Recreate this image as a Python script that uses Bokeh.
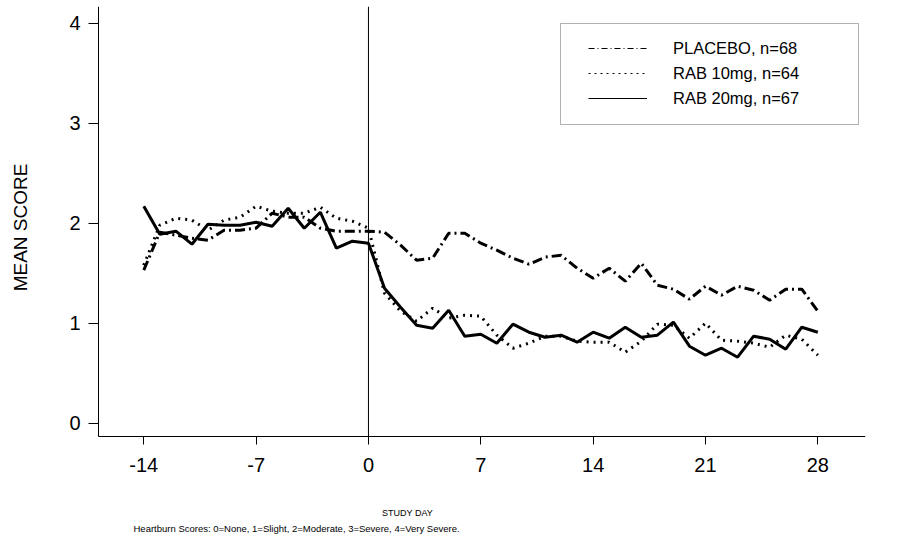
import math
from bokeh.plotting import figure
from bokeh.models import (Range1d, Legend, LegendItem, Label,
                          BoxAnnotation, FixedTicker)
from bokeh.embed import file_html
from bokeh.resources import INLINE

# ---------------- data ----------------
days = list(range(-14, 29))
placebo = [1.53, 1.91, 1.88, 1.85, 1.83, 1.93, 1.93, 1.95, 2.10, 2.06, 2.06, 1.95, 1.92, 1.92, 1.92,
           1.91, 1.78, 1.63, 1.65, 1.90, 1.90, 1.80, 1.73, 1.65, 1.59,
           1.66, 1.68, 1.55, 1.45, 1.55, 1.42, 1.60, 1.38, 1.34, 1.24,
           1.37, 1.28, 1.37, 1.33, 1.23, 1.34, 1.34, 1.12]
rab10 = [1.58, 1.98, 2.05, 2.03, 1.93, 2.03, 2.06, 2.17, 2.12, 2.10, 2.10, 2.16, 2.05, 2.02, 1.95,
         1.30, 1.12, 1.02, 1.15, 1.05, 1.08, 1.07, 0.88, 0.75, 0.80,
         0.87, 0.87, 0.82, 0.81, 0.81, 0.71, 0.82, 0.99, 0.98, 0.85,
         1.00, 0.83, 0.82, 0.80, 0.76, 0.88, 0.84, 0.68]
rab20 = [2.17, 1.89, 1.92, 1.79, 1.99, 1.98, 1.98, 2.01, 1.97, 2.15, 1.95, 2.11, 1.75, 1.82, 1.80,
         1.35, 1.16, 0.98, 0.95, 1.13, 0.87, 0.89, 0.80, 0.99, 0.91,
         0.86, 0.88, 0.81, 0.91, 0.85, 0.96, 0.86, 0.88, 1.01, 0.77,
         0.68, 0.75, 0.66, 0.87, 0.84, 0.74, 0.96, 0.91]
x_ticks = [-14, -7, 0, 7, 14, 21, 28]
x_tick_labels = {-14: "-14", -7: "-7"}
y_ticks = [0, 1, 2, 3, 4]
series_labels = ["PLACEBO, n=68", "RAB 10mg, n=64", "RAB 20mg, n=67"]
x_title = "STUDY DAY"
y_title = "MEAN SCORE"
footnote = "Heartburn Scores: 0=None, 1=Slight, 2=Moderate, 3=Severe, 4=Very Severe."

# axis extents: value axis runs Y_LO..Y_HI at day X_LO, day axis runs X_LO..X_HI at Y_LO
Y_LO, Y_HI = -0.133, 4.167
X_LO, X_HI = -16.82, 30.97
REF_DAY = 0

FONT = "Liberation Sans"

p = figure(width=916, height=555, output_backend="svg", toolbar_location=None,
           x_range=Range1d(-22.927, X_HI), y_range=Range1d(-1.323, Y_HI),
           min_border_left=0, min_border_right=51, min_border_top=6,
           min_border_bottom=0)
p.outline_line_color = None
p.grid.visible = False
p.background_fill_color = "white"

# axes
p.xaxis.ticker = FixedTicker(ticks=x_ticks)
p.xaxis.major_label_overrides = x_tick_labels
p.xaxis.fixed_location = Y_LO
p.xaxis.bounds = (X_LO, X_HI)
p.yaxis.ticker = FixedTicker(ticks=y_ticks)
p.yaxis.fixed_location = X_LO
p.yaxis.bounds = (Y_LO, Y_HI)
for ax in (p.xaxis, p.yaxis):
    ax.minor_tick_line_color = None
    ax.major_tick_in = 0
    ax.axis_line_color = "black"
    ax.major_tick_line_color = "black"
    ax.major_label_text_font = FONT
    ax.major_label_text_font_size = "20px"
    ax.major_label_text_color = "black"
p.xaxis.major_tick_out = 8
p.xaxis.major_label_standoff = 13
p.yaxis.major_tick_out = 10
p.yaxis.major_label_standoff = 8

# day-0 reference line, spanning the value axis extent
p.segment(x0=[REF_DAY], y0=[Y_LO], x1=[REF_DAY], y1=[Y_HI], line_color="black", line_width=1)

# data lines
p.line(days, placebo, line_color="black", line_width=3, line_dash="10 4 2 4")
p.line(days, rab10, line_color="black", line_width=3, line_dash="2 5")
p.line(days, rab20, line_color="black", line_width=3)

# thin copies used only for the legend samples
lg_pl = p.line(days, placebo, line_color="black", line_width=1, line_dash="6 3 1 3", visible=False)
lg_10 = p.line(days, rab10, line_color="black", line_width=1, line_dash="2 4", visible=False)
lg_20 = p.line(days, rab20, line_color="black", line_width=1, visible=False)

legend = Legend(items=[LegendItem(label=series_labels[0], renderers=[lg_pl]),
                       LegendItem(label=series_labels[1], renderers=[lg_10]),
                       LegendItem(label=series_labels[2], renderers=[lg_20])],
                location=(588, 447), padding=0, margin=0, spacing=5,
                glyph_width=59, glyph_height=20, label_height=20, label_standoff=26,
                border_line_color=None, background_fill_alpha=0,
                label_text_font=FONT, label_text_font_size="16.5px",
                label_text_color="black")
p.add_layout(legend)

p.add_layout(BoxAnnotation(left=560, right=858, bottom=431, top=532,
                           left_units="screen", right_units="screen",
                           top_units="screen", bottom_units="screen",
                           fill_color=None, fill_alpha=0,
                           line_color="black", line_width=1))

p.add_layout(Label(x=20, y=328, x_units="screen", y_units="screen", text=y_title,
                   angle=math.pi / 2, text_align="center", text_baseline="middle",
                   text_font=FONT, text_font_size="19px", text_color="black"))
p.add_layout(Label(x=407, y=43, x_units="screen", y_units="screen", text=x_title,
                   text_align="center", text_baseline="middle",
                   text_font=FONT, text_font_size="9px", text_color="black"))
p.add_layout(Label(x=133, y=27, x_units="screen", y_units="screen", text=footnote,
                   text_align="left", text_baseline="middle",
                   text_font=FONT, text_font_size="9.5px", text_color="black"))

open("out.html", "w").write(file_html(p, INLINE))
